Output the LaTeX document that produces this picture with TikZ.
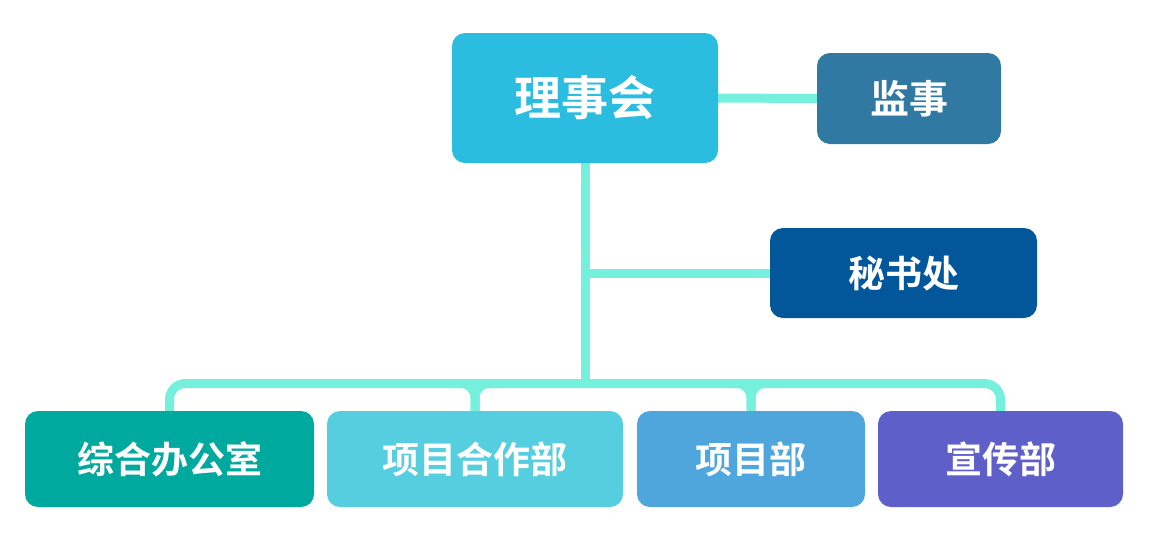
\documentclass[tikz,border=0pt]{standalone}
\usepackage{fontspec}
\usetikzlibrary{backgrounds}
\newfontfamily\cjkb{Noto Sans CJK SC Bold}
\definecolor{linec}{HTML}{74F0DC}
\definecolor{cTop}{HTML}{2BBDE0}
\definecolor{cJian}{HTML}{3079A2}
\definecolor{cMi}{HTML}{02579B}
\definecolor{cZong}{HTML}{00A99D}
\definecolor{cXH}{HTML}{55CEE0}
\definecolor{cXM}{HTML}{4FA6DC}
\definecolor{cXC}{HTML}{5E5FC9}
\tikzset{
  box/.style={rounded corners=13pt, text=white, font=\cjkb\fontsize{37}{42}\selectfont, inner sep=0pt, anchor=center},
  conn/.style={draw=linec, line width=9pt},
}
\begin{document}
\begin{tikzpicture}[x=1pt,y=1pt]
\useasboundingbox (0,0) rectangle (1149,-539);
\node[box, fill=cTop, minimum width=266pt, minimum height=130pt, font=\cjkb\fontsize{47}{52}\selectfont] (lsh) at (585,-98) {理事会};
\node[box, fill=cJian, minimum width=184pt, minimum height=91pt, font=\cjkb\fontsize{39}{44}\selectfont] (js) at (909,-98.5) {监事};
\node[box, fill=cMi, minimum width=267pt, minimum height=90pt] (msc) at (903.5,-273) {秘书处};
\node[box, fill=cZong, minimum width=289pt, minimum height=96pt] (zh) at (169.5,-459) {综合办公室};
\node[box, fill=cXH, minimum width=296pt, minimum height=96pt] (xh) at (475,-459) {项目合作部};
\node[box, fill=cXM, minimum width=228pt, minimum height=96pt] (xm) at (751,-459) {项目部};
\node[box, fill=cXC, minimum width=245pt, minimum height=96pt] (xc) at (1000.5,-459) {宣传部};
\coordinate (bus) at (585,-383.5);
\begin{scope}[on background layer]
\path[conn] (lsh.east) -- (js.west);
\path[conn] (lsh.south) -- (bus);
\path[conn] (lsh.south |- msc.west) -- (msc.west);
\path[conn, rounded corners=16pt] (zh.north) -- (zh.north |- bus) -- (xc.north |- bus) -- (xc.north);
\path[conn, rounded corners=14pt] ([xshift=-22pt]xh.north |- bus) -- (xh.north |- bus) -- (xh.north);
\path[conn, rounded corners=14pt] ([xshift=22pt]xh.north |- bus) -- (xh.north |- bus) -- (xh.north);
\path[conn, rounded corners=14pt] ([xshift=-22pt]xm.north |- bus) -- (xm.north |- bus) -- (xm.north);
\path[conn, rounded corners=14pt] ([xshift=22pt]xm.north |- bus) -- (xm.north |- bus) -- (xm.north);
\end{scope}
\end{tikzpicture}
\end{document}
